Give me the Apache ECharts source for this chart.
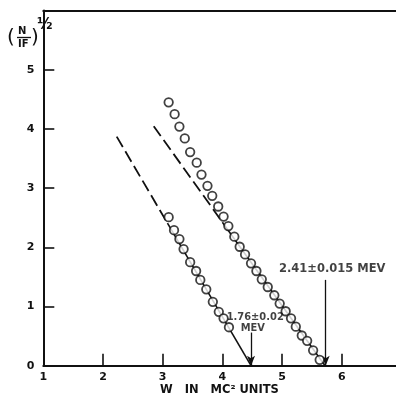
<!DOCTYPE html>
<html><head><meta charset="utf-8">
<script src="https://cdn.jsdelivr.net/npm/echarts@6/dist/echarts.min.js"></script>
<style>html,body{margin:0;padding:0;background:#fff}#c{width:396px;height:395px}</style>
</head><body><div id="c"></div>
<script>
// Data
var upperX = [3.10,3.20,3.28,3.37,3.46,3.57,3.65,3.75,3.83,3.93,4.02,4.10,4.20,4.29,4.38,4.48,4.57,4.66,4.76,4.87,4.96,5.06,5.15,5.23,5.33,5.42,5.52,5.63];
var upperY = [4.45,4.25,4.04,3.84,3.61,3.43,3.23,3.04,2.87,2.69,2.52,2.36,2.18,2.01,1.88,1.73,1.60,1.46,1.33,1.19,1.05,0.92,0.80,0.66,0.51,0.42,0.26,0.10];
var lowerX = [3.10,3.19,3.28,3.35,3.46,3.56,3.63,3.73,3.84,3.94,4.02,4.11];
var lowerY = [2.51,2.29,2.14,1.97,1.75,1.60,1.45,1.29,1.08,0.91,0.80,0.65];
var lowerFitDashX = [2.23, 3.08];
var lowerFitSolidX = [3.08, 4.48];
var upperFitDashX = [2.85, 4.00];
var upperFitSolidX = [4.00, 5.72];
var lowerEndpoint = 4.48, lowerSlope = 1.72;
var upperEndpoint = 5.72, upperSlope = 1.41;
var xTicks = [1,2,3,4,5,6];
var yTicks = [0,1,2,3,4,5];
var upperArrow = [[5.73,1.45],[5.73,0]];
var lowerArrow = [[4.48,0.56],[4.48,0]];
var annotations = [
  {x:5.84, y:1.63, text:'2.41\u00B10.015 MEV', size:11.5},
  {x:4.55, y:0.82, text:'1.76\u00B10.02', size:11},
  {x:4.51, y:0.64, text:'MEV', size:11}
];

function fit(xs, end, slope){ return xs.map(function(x){ return [x, slope*(end-x)]; }); }
function zip(xs, ys){ return xs.map(function(x,i){ return [x, ys[i]]; }); }
function arrowLine(p){ return [{coord:p[0]},{coord:p[1]}]; }

var FONT = 'DejaVu Sans';
var ink = '#111';
var chart = echarts.init(document.getElementById('c'));
var lineBase = {type:'line', symbol:'none', silent:true, animation:false, z:2};
chart.setOption({
  backgroundColor:'#fff',
  animation:false,
  grid:{left:43.3, right:0.5, top:10.6, bottom:29.3, containLabel:false, outerBoundsMode:'none'},
  xAxis:[{
    type:'value', min:1, max:6.9, interval:1,
    axisLine:{show:true, onZero:false, lineStyle:{color:ink, width:2}},
    axisTick:{show:true, inside:true, length:12, customValues:xTicks, lineStyle:{color:ink, width:1.6}},
    axisLabel:{customValues:xTicks, color:ink, fontFamily:FONT, fontWeight:'bold', fontSize:11, margin:6},
    splitLine:{show:false},
    name:'W   IN   MC\u00B2 UNITS', nameLocation:'middle', nameGap:18, nameMoveOverlap:false,
    nameTextStyle:{color:ink, fontFamily:FONT, fontWeight:'bold', fontSize:11.5}
  },{
    type:'value', position:'top', min:1, max:6.9,
    axisLine:{show:true, onZero:false, lineStyle:{color:ink, width:2}},
    axisTick:{show:false}, axisLabel:{show:false}, splitLine:{show:false}
  }],
  yAxis:{
    type:'value', min:0, max:6, interval:1,
    axisLine:{show:true, onZero:false, lineStyle:{color:ink, width:2}},
    axisTick:{show:true, inside:true, length:11, customValues:yTicks, lineStyle:{color:ink, width:1.6}},
    axisLabel:{customValues:yTicks, color:ink, fontFamily:FONT, fontWeight:'bold', fontSize:11, margin:9},
    splitLine:{show:false}
  },
  graphic:[
    {type:'text', left:7, top:28, style:{text:'(', font:'20px "DejaVu Sans"', fill:ink}},
    {type:'text', left:18, top:26, style:{text:'N', font:'bold 10px "DejaVu Sans"', fill:ink}},
    {type:'line', shape:{x1:17, y1:37.5, x2:31, y2:37.5}, style:{stroke:ink, lineWidth:1.3}},
    {type:'text', left:18, top:39, style:{text:'IF', font:'bold 10px "DejaVu Sans"', fill:ink}},
    {type:'text', left:31, top:28, style:{text:')', font:'20px "DejaVu Sans"', fill:ink}},
    {type:'text', left:37, top:18, style:{text:'\u00BD', font:'bold 15px "DejaVu Sans"', fill:ink}}
  ],
  series:[
    Object.assign({}, lineBase, {data:fit(lowerFitDashX, lowerEndpoint, lowerSlope), lineStyle:{color:ink, width:1.8, type:[12,5]}}),
    Object.assign({}, lineBase, {data:fit(lowerFitSolidX, lowerEndpoint, lowerSlope), lineStyle:{color:ink, width:1.6}}),
    Object.assign({}, lineBase, {data:fit(upperFitDashX, upperEndpoint, upperSlope), lineStyle:{color:ink, width:1.8, type:[12,5]}}),
    Object.assign({}, lineBase, {data:fit(upperFitSolidX, upperEndpoint, upperSlope), lineStyle:{color:ink, width:1.6},
      markLine:{silent:true, symbol:['none','arrow'], symbolSize:[6,10], label:{show:false},
        lineStyle:{color:ink, width:1.3, type:'solid'},
        data:[arrowLine(upperArrow), arrowLine(lowerArrow)]}}),
    {type:'scatter', data:zip(upperX, upperY), symbol:'circle', symbolSize:8.5, z:5,
      itemStyle:{color:'#fff', borderColor:ink, borderWidth:1.8}},
    {type:'scatter', data:zip(lowerX, lowerY), symbol:'circle', symbolSize:8.5, z:5,
      itemStyle:{color:'#fff', borderColor:ink, borderWidth:1.8}},
    {type:'scatter', symbol:'circle', symbolSize:1, z:6, silent:true,
      itemStyle:{color:'rgba(0,0,0,0)'},
      data:annotations.map(function(a){ return {value:[a.x,a.y], label:{formatter:a.text, fontSize:a.size,
        fontFamily: a.size < 11.5 ? 'DejaVu Sans Condensed' : FONT}}; }),
      label:{show:true, position:'inside', align:'center', verticalAlign:'middle', color:ink, fontFamily:FONT, fontWeight:'bold', fontSize:11.5}}
  ]
});
</script></body></html>
